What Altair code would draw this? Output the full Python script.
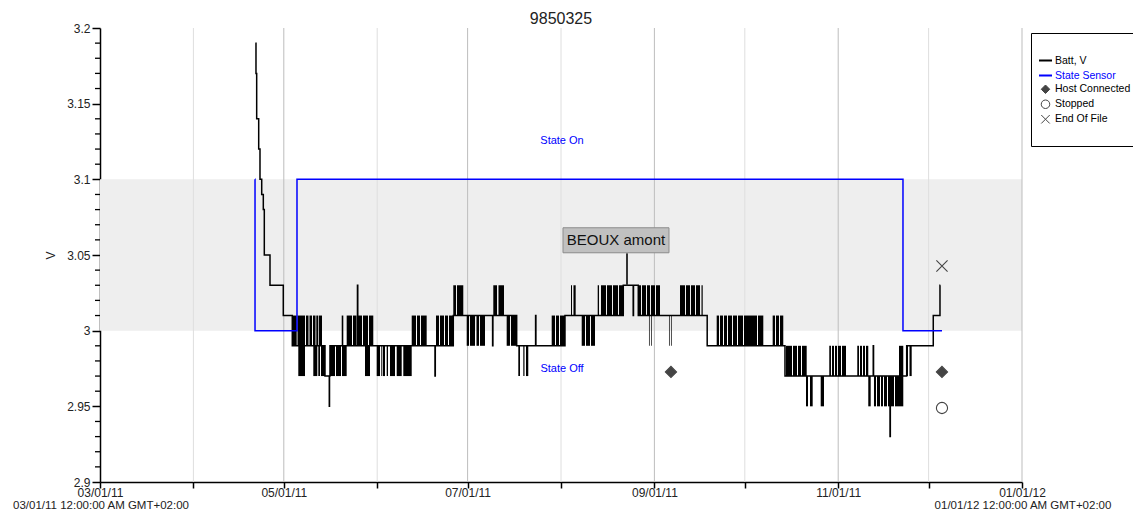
import altair as alt
import pandas as pd

START = pd.Timestamp("2011-03-01")
END = pd.Timestamp("2012-01-01")

# ---------------- data (days counted from 2011-03-01) ----------------
batt_day = [51.54, 51.77, 52.00, 52.67, 53.10, 53.67, 54.20, 54.53, 56.42, 60.83,
            63.82, 74.67, 76.10, 76.17, 76.33, 85.45, 85.55, 111.18, 111.28, 117.25,
            130.30, 130.40, 138.29, 144.57, 144.67, 154.32, 173.67, 176.96, 177.06, 178.65,
            201.52, 227.34, 256.63, 256.73, 262.20, 262.30, 267.73, 276.55, 278.78, 278.90]
batt_v = [3.19, 3.17, 3.14, 3.12, 3.10, 3.09, 3.08, 3.05, 3.03, 3.01,
          2.99, 2.97, 2.95, 2.97, 2.99, 3.03, 2.99, 2.97, 2.99, 3.01,
          2.99, 3.01, 2.99, 3.01, 2.99, 3.01, 3.03, 3.01, 3.03, 3.01,
          2.99, 2.97, 2.99, 2.97, 2.93, 2.97, 2.99, 3.01, 3.03, 3.03]

# dense toggling of the battery reading between two levels
tog_start = [63.82, 65.55, 65.81, 68.37, 69.53, 70.69, 71.79, 72.68, 70.79, 72.45,
             73.35, 76.33, 78.32, 80.31, 80.22, 81.87, 83.97, 85.46, 87.28, 89.28,
             87.95, 91.83, 93.36, 93.92, 95.15, 96.25, 98.47, 100.66, 103.45, 105.21,
             106.53, 111.51, 112.84, 114.50, 115.83, 117.25, 118.48, 121.70, 122.80, 124.95,
             126.11, 130.53, 132.25, 134.97, 136.40, 138.83, 140.49, 141.38, 149.91, 151.34,
             152.66, 156.32, 157.14, 159.87, 161.29, 162.95, 165.18, 166.27, 168.26, 170.25,
             172.25, 178.65, 179.88, 181.54, 182.87, 184.53, 182.20, 182.87, 188.84, 189.50,
             192.49, 194.48, 196.14, 197.80, 199.63, 204.67, 205.77, 207.09, 208.42, 210.08,
             211.74, 213.73, 218.38, 223.25, 224.35, 225.68, 227.67, 229.99, 231.65, 232.98,
             234.31, 235.63, 239.19, 242.04, 242.94, 243.93, 244.93, 246.26, 251.33, 252.23,
             253.22, 254.22, 254.98, 256.87, 257.87, 259.20, 260.19, 261.52, 263.84, 265.17,
             267.73, 268.66]
tog_end = [65.28, 68.04, 68.04, 69.20, 70.36, 71.52, 72.45, 73.68, 72.12, 73.01,
           74.67, 77.99, 79.98, 81.87, 80.75, 83.63, 85.13, 86.95, 88.94, 90.70,
           89.61, 92.93, 93.69, 94.59, 95.58, 97.90, 100.13, 103.45, 104.87, 106.20,
           108.42, 112.51, 114.17, 115.49, 117.25, 118.15, 120.57, 122.46, 124.46, 125.78,
           127.77, 131.76, 134.08, 136.07, 138.29, 139.39, 140.88, 142.14, 151.01, 152.33,
           154.32, 156.65, 157.87, 160.96, 162.62, 164.28, 165.61, 167.93, 169.92, 171.91,
           173.67, 179.55, 181.21, 182.53, 184.19, 185.85, 182.43, 183.10, 189.07, 189.73,
           194.15, 195.81, 197.47, 199.13, 200.03, 205.43, 206.76, 208.09, 209.75, 211.41,
           213.40, 218.05, 220.14, 224.02, 225.35, 226.77, 229.66, 231.32, 232.65, 234.54,
           234.97, 236.53, 240.28, 242.60, 243.60, 244.60, 245.92, 247.58, 251.90, 252.89,
           253.89, 254.98, 255.78, 257.54, 258.87, 259.86, 261.19, 263.51, 266.60, 266.60,
           268.16, 269.39]
tog_low = [2.99, 2.99, 2.97, 2.99, 2.99, 2.99, 2.99, 2.99, 2.97, 2.97,
           2.97, 2.97, 2.97, 2.97, 2.99, 2.99, 2.99, 2.99, 2.99, 2.99,
           2.97, 2.97, 2.97, 2.97, 2.97, 2.97, 2.97, 2.97, 2.99, 2.99,
           2.99, 2.99, 2.99, 2.99, 2.99, 3.01, 3.01, 2.99, 2.99, 2.99,
           2.99, 3.01, 3.01, 2.99, 2.99, 2.97, 2.97, 2.97, 2.99, 2.99,
           2.99, 3.01, 3.01, 2.99, 2.99, 2.99, 3.01, 3.01, 3.01, 3.01,
           3.01, 3.01, 3.01, 3.01, 3.01, 3.01, 2.99, 2.99, 2.99, 2.99,
           3.01, 3.01, 3.01, 3.01, 3.01, 2.99, 2.99, 2.99, 2.99, 2.99,
           2.99, 2.99, 2.99, 2.99, 2.99, 2.99, 2.97, 2.97, 2.97, 2.97,
           2.95, 2.95, 2.95, 2.97, 2.97, 2.97, 2.97, 2.97, 2.97, 2.97,
           2.97, 2.97, 2.95, 2.95, 2.95, 2.95, 2.95, 2.95, 2.95, 2.97,
           2.97, 2.97]
tog_high = [round(v + 0.02, 2) for v in tog_low]

state_day = [51.44, 51.45, 65.38, 266.50, 279.44]
state_v = [3.1, 3.0, 3.1, 3.0, 3.0]
state_labels = ["State On", "State Off"]
state_levels = [3.1, 3.0]

event_day = [189.50, 279.44, 279.44, 279.44]
event_v = [2.9727, 2.9727, 2.9489, 3.0427]
event_type = ["Host Connected", "Host Connected", "Stopped", "End Of File"]

note_day = [174.90]
note_v = [3.03]
note_text = ["BEOUX amont"]

tick_months = [(2011, m) for m in range(3, 13)] + [(2012, 1)]
grid_months = tick_months[1:]
y_major = [2.9, 2.95, 3.0, 3.05, 3.1, 3.15, 3.2]
y_minor = [2.91, 2.92, 2.93, 2.94, 2.96, 2.97, 2.98, 2.99, 3.01, 3.02, 3.03, 3.04,
           3.06, 3.07, 3.08, 3.09, 3.11, 3.12, 3.13, 3.14, 3.16, 3.17, 3.18, 3.19]
range_labels = ["03/01/11 12:00:00 AM GMT+02:00", "01/01/12 12:00:00 AM GMT+02:00"]

legend_names = ["Batt, V", "State Sensor", "Host Connected", "Stopped", "End Of File", " "]


def when(days):
    return (START + pd.to_timedelta(pd.Series(days, dtype=float), unit="D")).dt.round("s")


batt_df = pd.DataFrame({"t": when(batt_day), "v": batt_v})
tog_df = pd.DataFrame({"t": when(tog_start), "t2": when(tog_end), "v": tog_low, "v2": tog_high})
state_df = pd.DataFrame({"t": when(state_day), "v": state_v})
event_df = pd.DataFrame({"t": when(event_day), "v": event_v, "event": event_type})
note_df = pd.DataFrame({"t": when(note_day), "v": note_v, "label": note_text})
band_df = pd.DataFrame({"t": [START], "t2": [END], "v": [min(state_levels)], "v2": [max(state_levels)]})
grid_df = pd.DataFrame({
    "t": [pd.Timestamp(year=y, month=m, day=1) for y, m in grid_months],
    "c": ["#bdbdbd" if m % 2 == 1 else "#dedede" for y, m in grid_months],
})
minor_df = pd.DataFrame({"v": y_minor})
range_df = pd.DataFrame({"t": [START, END], "label": range_labels})

FONT = "Liberation Sans"

xscale = alt.Scale(domain=[alt.DateTime(year=2011, month=3, date=1),
                           alt.DateTime(year=2012, month=1, date=1)])
yscale = alt.Scale(domain=[2.9, 3.2], nice=False, zero=False)

xaxis = alt.Axis(
    values=[alt.DateTime(year=y, month=m, date=1) for y, m in tick_months],
    labelExpr="month(datum.value) % 2 == 0 ? timeFormat(datum.value, '%m/%d/%y') : ''",
    tickSize=6, tickWidth=1.5, tickColor="#000", domainColor="#000", domainWidth=1.5,
    labelPadding=-1, labelFont=FONT, labelFontSize=12, labelColor="#222",
    labelOverlap=False, labelFlush=False, grid=False, title=None,
)
yaxis = alt.Axis(
    values=y_major, format="~g", tickSize=8, tickWidth=1.5, tickColor="#000",
    domainColor="#000", domainWidth=1.5, labelPadding=2, labelFont=FONT,
    labelFontSize=12, labelColor="#222", labelOverlap=False, grid=False,
    title="V", titleFont=FONT, titleFontSize=12, titleFontWeight="normal",
    titleColor="#222", titlePadding=9,
)


def X(f="t"):
    return alt.X(f"{f}:T", scale=xscale, axis=xaxis, title=None)


def Y(f="v"):
    return alt.Y(f"{f}:Q", scale=yscale, axis=yaxis, title="V")


band = alt.Chart(band_df).mark_rect(color="#eeeeee").encode(
    x=X(), x2="t2:T", y=Y(), y2="v2:Q")

grid = alt.Chart(grid_df).mark_rule(strokeWidth=1).encode(
    x=X(), color=alt.Color("c:N", scale=None))

minor = alt.Chart(minor_df).mark_rule(color="#000", strokeWidth=1.3).encode(
    y=Y(), x=alt.value(-5), x2=alt.value(0))

tog = alt.Chart(tog_df).mark_rect(color="#000").encode(
    x=X(), x2="t2:T", y=Y(), y2="v2:Q")

batt = alt.Chart(batt_df).mark_line(interpolate="step-after", color="#000", strokeWidth=1.5).encode(
    x=X(), y=Y())

state = alt.Chart(state_df).mark_line(interpolate="step-after", color="#0000ff", strokeWidth=1.5).encode(
    x=X(), y=Y())

state_text_df = pd.DataFrame({"label": state_labels, "v": state_levels})
on_text = alt.Chart(state_text_df.iloc[[0]]).mark_text(
    color="#0000ff", font=FONT, fontSize=11, dy=-38).encode(
    x=alt.value(462), y=Y(), text="label:N")
off_text = alt.Chart(state_text_df.iloc[[1]]).mark_text(
    color="#0000ff", font=FONT, fontSize=11, dy=38).encode(
    x=alt.value(462), y=Y(), text="label:N")

stem = alt.Chart(note_df).mark_rule(color="#333", strokeWidth=2, y2Offset=-32).encode(
    x=X(), y=Y(), y2="v:Q")
note_box = alt.Chart(note_df).mark_rect(
    width=106, height=25, xOffset=-11, yOffset=-45,
    fill="#c0c0c0", stroke="#8c8c8c", strokeWidth=1).encode(x=X(), y=Y())
note_label = alt.Chart(note_df).mark_text(
    font=FONT, fontSize=15, color="#111", dx=-11, dy=-45).encode(
    x=X(), y=Y(), text="label:N")

leg = alt.Legend(
    title=" ", orient="none", legendX=931, legendY=5,
    strokeColor="#000", fillColor="#ffffff", padding=7,
    titleFontSize=10, titlePadding=3,
    labelFont=FONT, labelFontSize=10.5, rowPadding=2, labelOffset=2,
    labelColor={"expr": "datum.label == 'State Sensor' ? '#0000ff' : '#000000'"},
)

shape_enc = alt.Shape("event:N", legend=leg, title=" ", scale=alt.Scale(
    domain=legend_names,
    range=["stroke", "stroke", "diamond", "circle", "M-1,-1L1,1M-1,1L1,-1", "circle"]))
stroke_enc = alt.Stroke("event:N", legend=leg, title=" ", scale=alt.Scale(
    domain=legend_names,
    range=["#000000", "#0000ff", "#444444", "#444444", "#444444", "transparent"]))
fill_enc = alt.Fill("event:N", legend=leg, title=" ", scale=alt.Scale(
    domain=legend_names,
    range=["transparent", "transparent", "#444444", "#ffffff", "transparent", "transparent"]))

# markers drawn on the chart
events = alt.Chart(event_df).mark_point(opacity=1, size=125, strokeWidth=1.1).encode(
    x=X(), y=Y(), shape=shape_enc, stroke=stroke_enc, fill=fill_enc)

# legend carrier (no rows drawn), gives the legend its own symbol sizes
legend_layer = alt.Chart(event_df).transform_filter("false").mark_point(opacity=1).encode(
    x=X(), y=Y(), shape=shape_enc, stroke=stroke_enc, fill=fill_enc,
    size=alt.Size("event:N", legend=leg, title=" ", scale=alt.Scale(
        type="ordinal", domain=legend_names, range=[169, 169, 72, 72, 72, 0])),
    strokeWidth=alt.StrokeWidth("event:N", legend=leg, title=" ", scale=alt.Scale(
        type="ordinal", domain=legend_names, range=[2, 2, 1, 1, 1, 0])),
)

ranges = alt.Chart(range_df).mark_text(
    font=FONT, fontSize=11.5, color="#222", baseline="alphabetic", dx=1).encode(
    x=X(), y=alt.value(481), text="label:N")

chart = alt.layer(
    band, grid, minor, tog, batt, state, on_text, off_text,
    stem, note_box, note_label, legend_layer, events, ranges,
).properties(
    width=922, height=454,
    title=alt.TitleParams("9850325", font=FONT, fontSize=16, fontWeight="normal",
                          color="#222", anchor="middle", offset=-5, frame="group"),
    autosize=alt.AutoSizeParams(type="none"),
    padding={"left": 92, "top": 20, "right": 111, "bottom": 27},
).configure_view(stroke=None)

chart.save("out.html", embed_options={"renderer": "svg", "actions": False})
